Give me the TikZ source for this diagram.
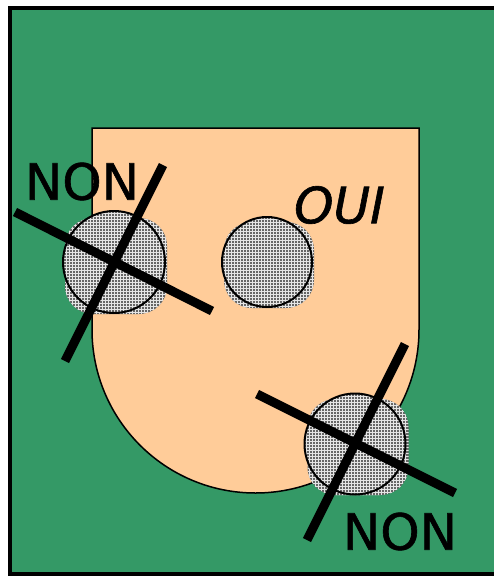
\documentclass[tikz,border=0pt]{standalone}
\usepackage{fontspec}
\setmainfont{DejaVu Sans}
\newfontfamily\comic{DejaVu Sans}[FakeBold=1.2]
\usepackage{tikz}
\usetikzlibrary{patterns}
\definecolor{terrain}{RGB}{52,153,102}
\definecolor{zone}{RGB}{255,204,153}
\tikzstyle{bar} = [line width=9pt]
\tikzstyle{spot} = [preaction={fill=black!60}, pattern=grid, pattern color=white!90!black]
\tikzstyle{shade} = [rectangle, rounded corners=28pt, inner sep=0pt, spot]
\tikzstyle{word} = [font=\comic\fontsize{50}{50}\selectfont, inner sep=0pt, text=black]

\begin{document}
\begin{tikzpicture}[x=1pt, y=-1pt]
\useasboundingbox (0,0) rectangle (494,576);
\clip (0,0) rectangle (494,576);
\fill[white] (0,0) rectangle (494,576);
\draw[line width=3.5pt, fill=terrain] (10,8) rectangle (510,574);
% zone
\draw[line width=1.5pt, fill=zone] (92,128) -- (419,128) -- (419,329.5) arc[start angle=0, end angle=180, radius=163.5] -- cycle;
% ombres
\node [shade, minimum width=102pt, minimum height=96pt] at (116,266) {};
\node [shade, minimum width=90pt, minimum height=86pt] at (269,265) {};
\node [shade, minimum width=101pt, minimum height=96pt] at (358,447) {};
% cercles
\node (c1) [circle, draw, line width=2pt, spot, minimum size=102pt, inner sep=0pt] at (114,262) {};
\node (c2) [circle, draw, line width=2pt, spot, minimum size=90pt, inner sep=0pt] at (267,262) {};
\node (c3) [circle, draw, line width=2pt, spot, minimum size=101pt, inner sep=0pt] at (355,444) {};
% croix
\coordinate (g1) at (15,212);
\coordinate (g2) at (212,311);
\coordinate (g3) at (163,165);
\coordinate (g4) at (65,361);
\coordinate (d1) at (257,394);
\coordinate (d2) at (455,493);
\coordinate (d3) at (405,344);
\coordinate (d4) at (307,540);
\draw[bar] (g1) -- (g2);
\draw[bar] (g3) -- (g4);
\draw[bar] (d1) -- (d2);
\draw[bar] (d3) -- (d4);
% textes
\node (non1) [word] at (82,181.5) {NON};
\node (oui) [word] at (339.5,205) {\itshape OUI};
\node (non2) [word] at (400,531.5) {NON};
\end{tikzpicture}
\end{document}
